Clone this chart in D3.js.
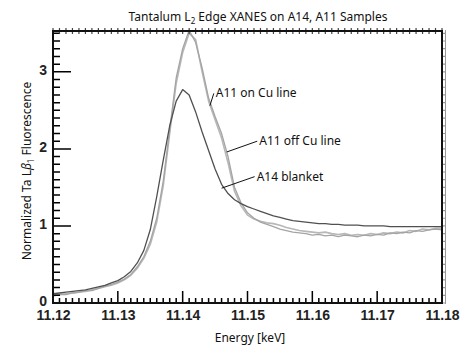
<!DOCTYPE html>
<html>
<head>
<meta charset="utf-8">
<script src="https://cdn.jsdelivr.net/npm/d3@7"></script>
<style>
  body { margin: 0; background: #fff; }
  svg { display: block; }
  .tick-lbl { font-family: "Liberation Sans", Arial, sans-serif; font-weight: bold; font-size: 14px; fill: #222; }
  .ttl { font-family: "Noto Sans", sans-serif; font-size: 12px; fill: #111; }
  .note { font-family: "Noto Sans", sans-serif; font-size: 12px; fill: #111; }
</style>
</head>
<body>
<svg width="462" height="345"></svg>
<script>
// energy grid, keV
var energy = [11.120,11.121,11.122,11.123,11.124,11.125,11.126,11.127,11.128,11.129,
  11.130,11.131,11.132,11.133,11.134,11.135,11.136,11.137,11.138,11.139,
  11.140,11.141,11.142,11.143,11.144,11.145,11.146,11.147,11.148,11.149,
  11.150,11.151,11.152,11.153,11.154,11.155,11.156,11.157,11.158,11.159,
  11.160,11.161,11.162,11.163,11.164,11.165,11.166,11.167,11.168,11.169,
  11.170,11.171,11.172,11.173,11.174,11.175,11.176,11.177,11.178,11.179,11.180];

var a14Blanket = [0.12,0.13,0.14,0.15,0.16,0.17,0.19,0.21,0.23,0.26,
  0.29,0.34,0.41,0.52,0.68,0.95,1.38,1.85,2.30,2.62,
  2.77,2.70,2.48,2.22,1.98,1.74,1.54,1.42,1.34,1.29,
  1.25,1.22,1.19,1.16,1.13,1.11,1.09,1.07,1.06,1.05,
  1.04,1.03,1.03,1.02,1.02,1.01,1.01,1.01,1.00,1.00,
  1.00,1.00,0.99,0.99,0.99,0.99,0.99,0.99,0.99,0.99,0.99];

var a11OnCu = [0.10,0.11,0.12,0.13,0.14,0.15,0.17,0.19,0.21,0.23,
  0.26,0.30,0.36,0.45,0.58,0.76,1.05,1.52,2.20,2.85,
  3.25,3.50,3.42,3.00,2.62,2.38,2.14,1.82,1.45,1.26,
  1.14,1.09,1.06,1.04,1.03,1.01,0.98,0.96,0.94,0.93,
  0.92,0.91,0.92,0.90,0.89,0.90,0.88,0.89,0.88,0.90,
  0.89,0.91,0.90,0.92,0.91,0.94,0.93,0.96,0.95,0.97,0.97];

var a11OffCu = [0.09,0.11,0.11,0.13,0.14,0.16,0.16,0.19,0.22,0.24,
  0.27,0.31,0.37,0.47,0.60,0.80,1.10,1.58,2.25,2.92,
  3.30,3.54,3.38,3.05,2.66,2.42,2.20,1.90,1.50,1.30,
  1.17,1.10,1.05,1.02,0.99,0.96,0.94,0.92,0.91,0.90,
  0.88,0.89,0.87,0.88,0.86,0.88,0.87,0.86,0.88,0.87,
  0.89,0.88,0.91,0.90,0.92,0.91,0.94,0.93,0.95,0.96,0.95];

var xTicks = [11.12, 11.13, 11.14, 11.15, 11.16, 11.17, 11.18];
var yTicks = [0, 1, 2, 3];

// callouts: [text, curve point energy, value, elbow energy, value]
var notes = [
  ["A11 on Cu line", 11.1442, 2.56, 11.1448, 2.72],
  ["A11 off Cu line", 11.1468, 1.96, 11.1515, 2.10],
  ["A14 blanket", 11.1460, 1.49, 11.1511, 1.64]
];

var svg = d3.select("svg");
var pArea = [53, 31, 442, 303];

var x = d3.scaleLinear().domain([11.12, 11.18]).range([pArea[0], pArea[2]]);
var y = d3.scaleLinear().domain([0, 3.53]).range([pArea[3], pArea[1]]);

var series = [
  {v: a11OnCu, color: "#b8b8b8", w: 1.6},
  {v: a11OffCu, color: "#a4a4a4", w: 1.3},
  {v: a14Blanket, color: "#505050", w: 1.3}
];

var line = d3.line()
  .x((d, i) => x(energy[i]))
  .y(d => y(d));

var plot = svg.append("g");
series.forEach(s => {
  plot.append("path")
    .datum(s.v)
    .attr("fill", "none")
    .attr("stroke", s.color)
    .attr("stroke-width", s.w)
    .attr("stroke-linejoin", "round")
    .attr("d", line);
});

// tick marks, one path per side
var xMinor = d3.range(0, 61).map(i => 11.12 + i * 0.001);
var yMinor = d3.range(0, 36).map(i => i * 0.1);

var bottomD = xMinor.map((d, i) => `M${x(d)},${pArea[3]}V${pArea[3] - (i % 10 === 0 ? 12 : 5)}`).join("");
var topD = xMinor.map(d => `M${x(d)},${pArea[1] - 3}V${pArea[1] + 3}`).join("");
var leftD = yMinor.map((d, i) => `M${pArea[0]},${y(d)}H${pArea[0] + (i % 10 === 0 ? 18 : 7)}`).join("");
var rightD = yMinor.map(d => `M${pArea[2]},${y(d)}H${pArea[2] + 4}`).join("");

svg.append("path").attr("d", bottomD).attr("stroke", "#000").attr("stroke-width", 1.5).attr("fill", "none");
svg.append("path").attr("d", leftD).attr("stroke", "#000").attr("stroke-width", 1.5).attr("fill", "none");
svg.append("path").attr("d", topD).attr("stroke", "#444").attr("stroke-width", 1.2).attr("fill", "none");
svg.append("path").attr("d", rightD).attr("stroke", "#999").attr("stroke-width", 1.2).attr("fill", "none");

// tick labels
svg.append("g").attr("transform", `translate(0,${pArea[3]})`)
  .call(d3.axisBottom(x).tickValues(xTicks).tickSize(0).tickPadding(7).tickFormat(d3.format(".2f")))
  .call(g => g.select(".domain").remove())
  .call(g => g.selectAll("text").attr("class", "tick-lbl"));
svg.append("g").attr("transform", `translate(${pArea[0]},-2)`)
  .call(d3.axisLeft(y).tickValues(yTicks).tickSize(0).tickPadding(6).tickFormat(d3.format("d")))
  .call(g => g.select(".domain").remove())
  .call(g => g.selectAll("text").attr("class", "tick-lbl"));
svg.selectAll("g").attr("font-size", null).attr("font-family", null);

// frame
svg.append("rect")
  .attr("x", pArea[0]).attr("y", pArea[1])
  .attr("width", pArea[2] - pArea[0]).attr("height", pArea[3] - pArea[1])
  .attr("fill", "none").attr("stroke", "#111").attr("stroke-width", 2);
svg.append("line")
  .attr("x1", pArea[2] + 3.5).attr("x2", pArea[2] + 3.5)
  .attr("y1", pArea[1] - 1).attr("y2", pArea[3] + 1)
  .attr("stroke", "#999").attr("stroke-width", 1);

// callouts
notes.forEach(n => {
  svg.append("line")
    .attr("x1", x(n[1])).attr("y1", y(n[2]))
    .attr("x2", x(n[3])).attr("y2", y(n[4]))
    .attr("stroke", "#111").attr("stroke-width", 1);
  svg.append("text").attr("class", "note")
    .attr("x", x(n[3]) + 2).attr("y", y(n[4]) + 4)
    .text(n[0]);
});

// title
var t = svg.append("text").attr("class", "ttl")
  .attr("x", 258).attr("y", 21).attr("text-anchor", "middle");
t.append("tspan").text("Tantalum L");
t.append("tspan").attr("dy", 3).attr("font-size", 8).text("2");
t.append("tspan").attr("dy", -3).text(" Edge XANES on A14, A11 Samples");

svg.append("text").attr("class", "ttl")
  .attr("x", 250).attr("y", 342).attr("text-anchor", "middle")
  .text("Energy [keV]");

var yl = svg.append("text").attr("class", "ttl")
  .attr("transform", "translate(31,171) rotate(-90)")
  .attr("text-anchor", "middle");
yl.append("tspan").text("Normalized Ta L");
yl.append("tspan").attr("font-style", "italic").text("β");
yl.append("tspan").attr("dy", 3).attr("font-size", 8).text("1");
yl.append("tspan").attr("dy", -3).text(" Fluorescence");
</script>
</body>
</html>
